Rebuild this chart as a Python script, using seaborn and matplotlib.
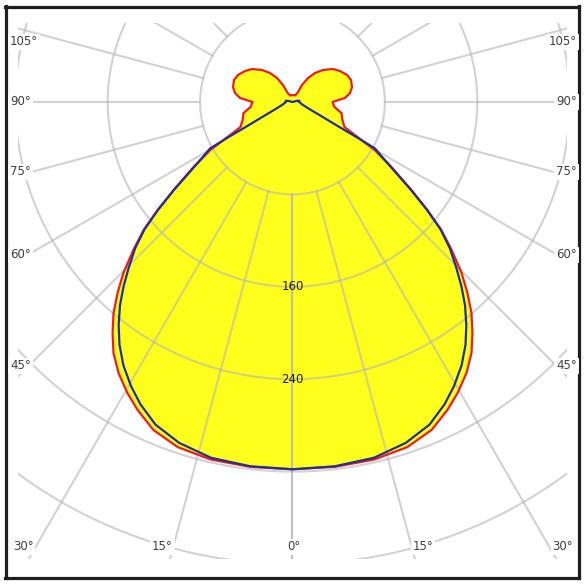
import numpy as np
import pandas as pd
import matplotlib
matplotlib.use("Agg")
import matplotlib.pyplot as plt
from matplotlib.patches import Rectangle
import seaborn as sns

# ---------------- data (luminous intensity, cd) ----------------
gamma_red = [0, 6.6, 12.9, 18.4, 23, 26.7, 29.6, 32.7, 35.5, 37.9, 40.3, 42.5, 44.7, 47.1,
             49.3, 51.3, 53.5, 56.7, 59.7, 61.7, 64.3, 70, 77.3, 83.2, 90, 94.4, 98.9,
             104.1, 110.6, 116.4, 123.1, 129.2, 136.4, 142.2, 147.1, 150.8, 151.5, 160,
             170, 180]
cd_red = [318, 318, 317.5, 314.9, 308.4, 298.5, 289.6, 278.8, 266.9, 253.6, 239.6, 224.2,
          208.1, 188, 170, 149.7, 128.1, 102.5, 82.3, 63.9, 50, 46, 43.5, 36.6, 34.6, 45.6,
          50.4, 53.1, 54.1, 52.7, 49.1, 45.2, 38.3, 31.8, 24.7, 16.9, 9, 6, 6, 6]

gamma_blue = [0, 6.6, 12.9, 18.4, 23, 26.7, 29.6, 32.7, 35.5, 37.9, 40.3, 42.5, 44.7, 47.1,
              49.3, 51.3, 53.5, 56.7, 58.5, 60.6, 61.2, 62.1, 63.5, 66.8, 74.8, 85, 92, 100,
              105, 110, 180]
cd_blue = [318, 317.5, 316, 311, 303.5, 293, 283, 271, 258, 245, 231, 216.5, 201.5, 186,
           169, 149, 127, 101, 91, 82, 65, 43, 30, 17, 9, 6.5, 5.5, 6, 4, 0, 0]

circle_values = [80, 160, 240, 320, 400]
circle_labels = ["160", "240"]
radial_angles = list(range(0, 181, 15))

angle_labels = ["105°", "90°", "75°", "60°", "45°", "30°", "15°", "0°", "15°", "30°",
                "45°", "60°", "75°", "90°", "105°"]

# ---------------- layout (pixels) ----------------
W, H = 585, 586
CX, CY = 292.5, 102        # pole position in pixels
S = 1.155                  # pixels per cd
L, R, T, B = 5.5, 578.5, 6.5, 577.5   # frame

# label positions (x, y, ha)
label_pos = [(10, 42, "left"), (10, 102, "left"), (10, 172, "left"), (10, 255, "left"),
             (10, 366, "left"), (13, 547, "left"), (162.5, 547, "center"), (293.5, 547, "center"),
             (423, 547, "center"), (573, 547, "right"), (577, 366, "right"), (577, 255, "right"),
             (577, 172, "right"), (577, 102, "right"), (577, 42, "right")]


def px2d(px, py):
    return (px - CX) / S, (CY - py) / S


sns.set_style("white")
plt.rcParams["font.family"] = ["DejaVu Sans"]

fig = plt.figure(figsize=(W / 100, H / 100), dpi=100)
ax = fig.add_axes([L / W, 1 - B / H, (R - L) / W, (B - T) / H])
x0, y1 = px2d(L, T)
x1, y0 = px2d(R, B)
ax.set_xlim(x0, x1)
ax.set_ylim(y0, y1)
ax.set_xticks([])
ax.set_yticks([])
for sp in ax.spines.values():
    sp.set_color("#1e1e1e")
    sp.set_linewidth(2.3)
    sp.set_visible(True)


def closed_curve(gam, val):
    g = np.radians(np.array(gam, dtype=float))
    v = np.array(val, dtype=float)
    gfull = np.concatenate([-g[::-1], g[1:]])
    vfull = np.concatenate([v[::-1], v[1:]])
    return pd.DataFrame({"x": vfull * np.sin(gfull), "y": -vfull * np.cos(gfull)})


red = closed_curve(gamma_red, cd_red)
blue = closed_curve(gamma_blue, cd_blue)

# yellow fill
ax.fill(red["x"], red["y"], color="#ffff1e", zorder=1, lw=0)

# grid clip rectangle
cx0, cy1 = px2d(18, 23)
cx1, cy0 = px2d(567, 559)
clip = Rectangle((cx0, cy0), cx1 - cx0, cy1 - cy0, transform=ax.transData)

grid_kw = dict(color="#b4b4b4", alpha=0.6, lw=1.5, zorder=2)
th = np.linspace(0, 2 * np.pi, 721)
for rv in circle_values:
    ln, = ax.plot(rv * np.sin(th), rv * np.cos(th), **grid_kw)
    ln.set_clip_path(clip)
for a in radial_angles:
    for sgn in (-1, 1):
        ar = np.radians(a) * sgn
        rr = np.array([circle_values[0], 900])
        ln, = ax.plot(rr * np.sin(ar), -rr * np.cos(ar), **grid_kw)
        ln.set_clip_path(clip)

sns.lineplot(data=red, x="x", y="y", sort=False, estimator=None, ax=ax,
             color="#ee1c1c", lw=1.6, zorder=3)
sns.lineplot(data=blue, x="x", y="y", sort=False, estimator=None, ax=ax,
             color="#20309a", lw=1.6, zorder=4)
ax.set_xlabel("")
ax.set_ylabel("")

for lab in circle_labels:
    v = float(lab)
    ax.text(0, -v, lab, ha="center", va="center", fontsize=8.5, color="#1a1a1a", zorder=6)

for lab, (px, py, ha) in zip(angle_labels, label_pos):
    xd, yd = px2d(px, py)
    ax.text(xd, yd, lab, ha=ha, va="center", fontsize=8.5, color="#404040", zorder=6,
            bbox=dict(boxstyle="square,pad=0.15", fc="white", ec="none"))

fig.savefig("out.png", dpi=100)
